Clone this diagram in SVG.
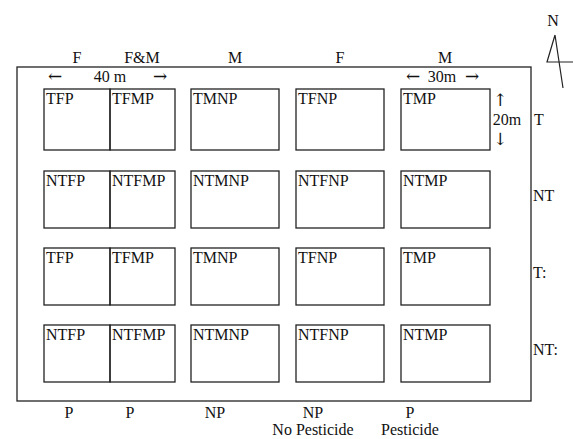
<svg xmlns="http://www.w3.org/2000/svg" width="573" height="439" viewBox="0 0 573 439">
  <style>
    text { font-family: "Liberation Serif", "DejaVu Serif", serif; font-size: 16px; fill: #111; }
    .plot { fill: none; stroke: #222; stroke-width: 1.3; }
    .mid { text-anchor: middle; }
    .arr { font-family: "DejaVu Serif", serif; font-size: 17px; }
    .ln { stroke: #222; stroke-width: 1.2; fill: none; }
  </style>
  <rect width="573" height="439" fill="#fff"/>

  <!-- field boundary -->
  <rect x="17" y="67" width="514" height="334" class="plot"/>

  <!-- column headings (fertiliser / manure) -->
  <g id="col-heads">
    <text x="77" y="63" class="mid">F</text>
    <text x="142" y="63" class="mid">F&amp;M</text>
    <text x="235" y="63" class="mid">M</text>
    <text x="340" y="63" class="mid">F</text>
    <text x="445" y="63" class="mid">M</text>
  </g>

  <!-- dimensions -->
  <g id="dims">
    <text x="55" y="82" class="mid arr">←</text>
    <text x="110" y="82" class="mid">40 m</text>
    <text x="160" y="82" class="mid arr">→</text>
    <text x="413" y="82" class="mid arr">←</text>
    <text x="442" y="82" class="mid">30m</text>
    <text x="472" y="82" class="mid arr">→</text>
    <text x="500" y="106" class="mid arr">↑</text>
    <text x="507" y="125" class="mid">20m</text>
    <text x="500" y="145" class="mid arr">↓</text>
  </g>

  <!-- row 1 -->
  <g id="r1c1"><rect x="44" y="89" width="66" height="61" class="plot"/><text x="46" y="104">TFP</text></g>
  <g id="r1c2"><rect x="110" y="89" width="65" height="61" class="plot"/><text x="112" y="104">TFMP</text></g>
  <g id="r1c3"><rect x="191" y="89" width="88" height="61" class="plot"/><text x="193" y="104">TMNP</text></g>
  <g id="r1c4"><rect x="296" y="89" width="88" height="61" class="plot"/><text x="298" y="104">TFNP</text></g>
  <g id="r1c5"><rect x="401" y="89" width="89" height="61" class="plot"/><text x="403" y="104">TMP</text></g>

  <!-- row 2 -->
  <g id="r2c1"><rect x="44" y="171" width="66" height="57" class="plot"/><text x="46" y="186">NTFP</text></g>
  <g id="r2c2"><rect x="110" y="171" width="65" height="57" class="plot"/><text x="112" y="186">NTFMP</text></g>
  <g id="r2c3"><rect x="191" y="171" width="88" height="57" class="plot"/><text x="193" y="186">NTMNP</text></g>
  <g id="r2c4"><rect x="296" y="171" width="88" height="57" class="plot"/><text x="298" y="186">NTFNP</text></g>
  <g id="r2c5"><rect x="401" y="171" width="89" height="57" class="plot"/><text x="403" y="186">NTMP</text></g>

  <!-- row 3 -->
  <g id="r3c1"><rect x="44" y="248" width="66" height="57" class="plot"/><text x="46" y="263">TFP</text></g>
  <g id="r3c2"><rect x="110" y="248" width="65" height="57" class="plot"/><text x="112" y="263">TFMP</text></g>
  <g id="r3c3"><rect x="191" y="248" width="88" height="57" class="plot"/><text x="193" y="263">TMNP</text></g>
  <g id="r3c4"><rect x="296" y="248" width="88" height="57" class="plot"/><text x="298" y="263">TFNP</text></g>
  <g id="r3c5"><rect x="401" y="248" width="89" height="57" class="plot"/><text x="403" y="263">TMP</text></g>

  <!-- row 4 -->
  <g id="r4c1"><rect x="44" y="325" width="66" height="57" class="plot"/><text x="46" y="340">NTFP</text></g>
  <g id="r4c2"><rect x="110" y="325" width="65" height="57" class="plot"/><text x="112" y="340">NTFMP</text></g>
  <g id="r4c3"><rect x="191" y="325" width="88" height="57" class="plot"/><text x="193" y="340">NTMNP</text></g>
  <g id="r4c4"><rect x="296" y="325" width="88" height="57" class="plot"/><text x="298" y="340">NTFNP</text></g>
  <g id="r4c5"><rect x="401" y="325" width="89" height="57" class="plot"/><text x="403" y="340">NTMP</text></g>

  <!-- row headings (tillage) -->
  <g id="row-heads">
    <text x="534" y="125">T</text>
    <text x="533" y="201">NT</text>
    <text x="533" y="278">T:</text>
    <text x="533" y="355">NT:</text>
  </g>

  <!-- pesticide headings -->
  <g id="foot">
    <text x="69" y="418" class="mid">P</text>
    <text x="130" y="418" class="mid">P</text>
    <text x="215" y="418" class="mid">NP</text>
    <text x="313" y="418" class="mid">NP</text>
    <text x="313" y="435" class="mid">No Pesticide</text>
    <text x="410" y="418" class="mid">P</text>
    <text x="410" y="435" class="mid">Pesticide</text>
  </g>

  <!-- north arrow -->
  <g id="north">
    <text x="553" y="26" class="mid">N</text>
    <path d="M555 35 L547 62 L573 62 M555 35 L563 88" class="ln"/>
  </g>
</svg>
